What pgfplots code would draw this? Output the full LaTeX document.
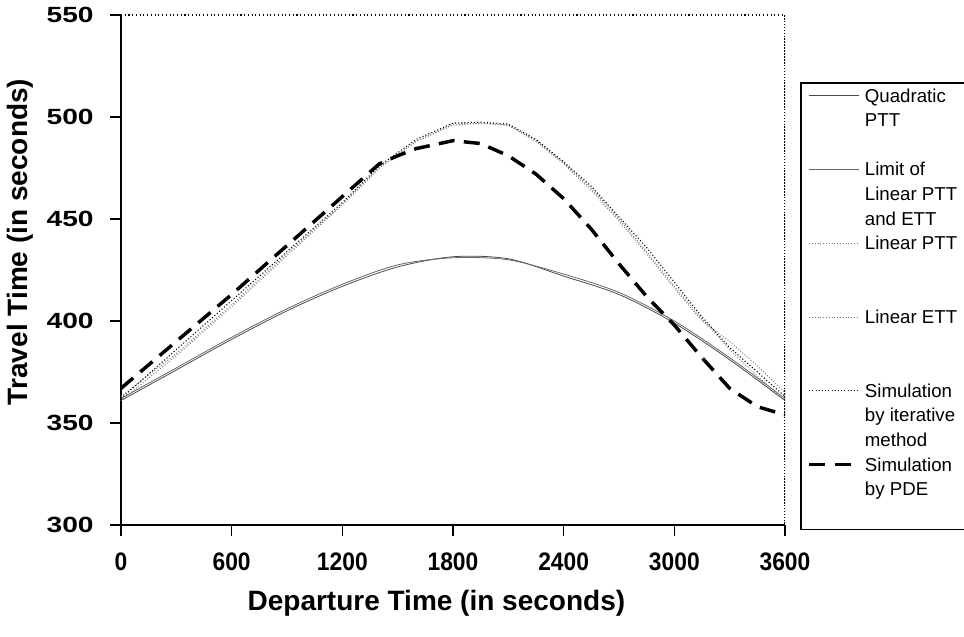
\documentclass[border=0pt]{standalone}
\usepackage{pgfplots}
\pgfplotsset{compat=1.18}
\usepackage{graphicx}
\usepackage{fontspec}
\setmainfont{Liberation Sans}

\begin{document}
\begin{tikzpicture}
\begin{axis}[
  at={(0pt,0pt)}, anchor=south west,
  scale only axis, width=498pt, height=382.5pt,
  xmin=0, xmax=3600, ymin=300, ymax=550,
  xtick={0,600,...,3600}, ytick={300,350,...,550},
  axis lines*=left,
  axis line style={line width=1.2pt},
  tick align=outside, major tick length=8pt,
  tick style={black, line width=1pt},
  /pgf/number format/1000 sep={},
  /pgf/number format/assume math mode=true,
  xticklabel style={font=\fontsize{19}{19}\selectfont\bfseries, yshift=-9pt},
  yticklabel style={font=\fontsize{16.5}{16.5}\selectfont\bfseries, xshift=-9pt},
  xticklabel={\scalebox{0.9}[1]{\pgfmathprintnumber{\tick}}},
  yticklabel={\scalebox{1.28}[1]{\pgfmathprintnumber{\tick}}},
  xlabel={Departure Time (in seconds)},
  ylabel={Travel Time (in seconds)},
  label style={font=\fontsize{21}{21}\selectfont\bfseries},
  xlabel style={at={(axis description cs:0.475,-0.153)}, anchor=center},
  ylabel style={at={(axis description cs:-0.152,0.555)}, anchor=center},
  legend image code/.code={\draw[#1] (0pt,4.8pt) -- (37.5pt,4.8pt);},
  legend style={at={(axis description cs:1.0226,0.8686)}, anchor=north west,
    draw=black, line width=1.2pt, inner xsep=5pt, inner ysep=1.5pt,
    row sep=0pt, column sep=3pt,
    font=\fontsize{14}{16}\selectfont,
    nodes={inner sep=0pt, text height=12.9pt, text depth=5.55pt, anchor=base west}},
  legend cell align=left,
]
% frame top and right (dotted)
\draw[black, line width=0.8pt, dotted] (rel axis cs:0,1) -- (rel axis cs:1,1);
\draw[black, line width=1.2pt, densely dotted] (rel axis cs:1,1) -- (rel axis cs:1,0);

% Quadratic PTT
\addplot[black!70, line width=0.6pt, smooth] coordinates {
(0,361) (300,376) (600,391) (900,405) (1200,417) (1500,426.5) (1800,431.5)
(2100,430.5) (2400,422) (2700,413) (3000,399) (3300,381) (3600,361)};
\addlegendentry{Quadratic}
\addlegendimage{empty legend}\addlegendentry{PTT}
\addlegendimage{empty legend}\addlegendentry{\mbox{}}

% Limit of Linear PTT and ETT
\addplot[black!60, line width=0.6pt, smooth] coordinates {
(0,362) (300,377) (600,392) (900,406) (1200,418) (1500,427.5) (1800,431)
(2100,430) (2400,423) (2700,414) (3000,400) (3300,382) (3600,362)};
\addlegendentry{Limit of}
\addlegendimage{empty legend}\addlegendentry{Linear PTT}
\addlegendimage{empty legend}\addlegendentry{and ETT}

% Linear PTT
\addplot[black!55, line width=0.7pt, dash pattern=on 0.7pt off 1.4pt] coordinates {
(0,361) (300,383) (600,407) (900,432) (1200,457) (1400,475) (1600,488)
(1800,496) (1950,497) (2100,496) (2250,488) (2400,477) (2550,464) (2700,449)
(2850,433) (3000,416) (3150,400) (3300,390) (3450,378) (3600,365)};
\addlegendentry{Linear PTT}
\addlegendimage{empty legend}\addlegendentry{\mbox{}}
\addlegendimage{empty legend}\addlegendentry{\mbox{}}

% Linear ETT
\addplot[black!55, line width=0.7pt, dash pattern=on 0.7pt off 1.4pt] coordinates {
(0,363) (300,384) (600,408) (900,433) (1200,457) (1400,475) (1600,488)
(1800,496.5) (1950,497) (2100,496) (2250,488.5) (2400,477.5) (2550,465) (2700,450)
(2850,434) (3000,417) (3150,401) (3300,386) (3450,373) (3600,361)};
\addlegendentry{Linear ETT}
\addlegendimage{empty legend}\addlegendentry{\mbox{}}
\addlegendimage{empty legend}\addlegendentry{\mbox{}}

% Simulation by iterative method
\addplot[black, line width=0.8pt, dash pattern=on 0.8pt off 1.6pt] coordinates {
(0,362) (300,386) (600,410) (900,434) (1200,458) (1400,476) (1600,489)
(1800,497) (1950,497.5) (2100,496.5) (2250,489) (2400,478) (2550,466) (2700,451)
(2850,436) (3000,419) (3150,402) (3300,387) (3450,375) (3600,363)};
\addlegendentry{Simulation}
\addlegendimage{empty legend}\addlegendentry{by iterative}
\addlegendimage{empty legend}\addlegendentry{method}

% Simulation by PDE
\addplot[black, line width=2.6pt, dash pattern=on 12pt off 7pt] coordinates {
(0,367) (300,390) (600,413) (900,437) (1200,461) (1400,477) (1500,481)
(1600,484.5) (1800,488.4) (1950,487) (2100,481) (2250,472) (2400,460)
(2550,445) (2700,428) (2850,412) (3000,398) (3150,382) (3300,367)
(3450,358) (3600,354)};
\addlegendentry{Simulation}
\addlegendimage{empty legend}\addlegendentry{by PDE}
\addlegendimage{empty legend}\addlegendentry{\mbox{\hspace{130pt}}}
\end{axis}
\pgfresetboundingbox
\useasboundingbox (-90.75pt,-83.25pt) rectangle (632.25pt,393.75pt);
\end{tikzpicture}
\end{document}
